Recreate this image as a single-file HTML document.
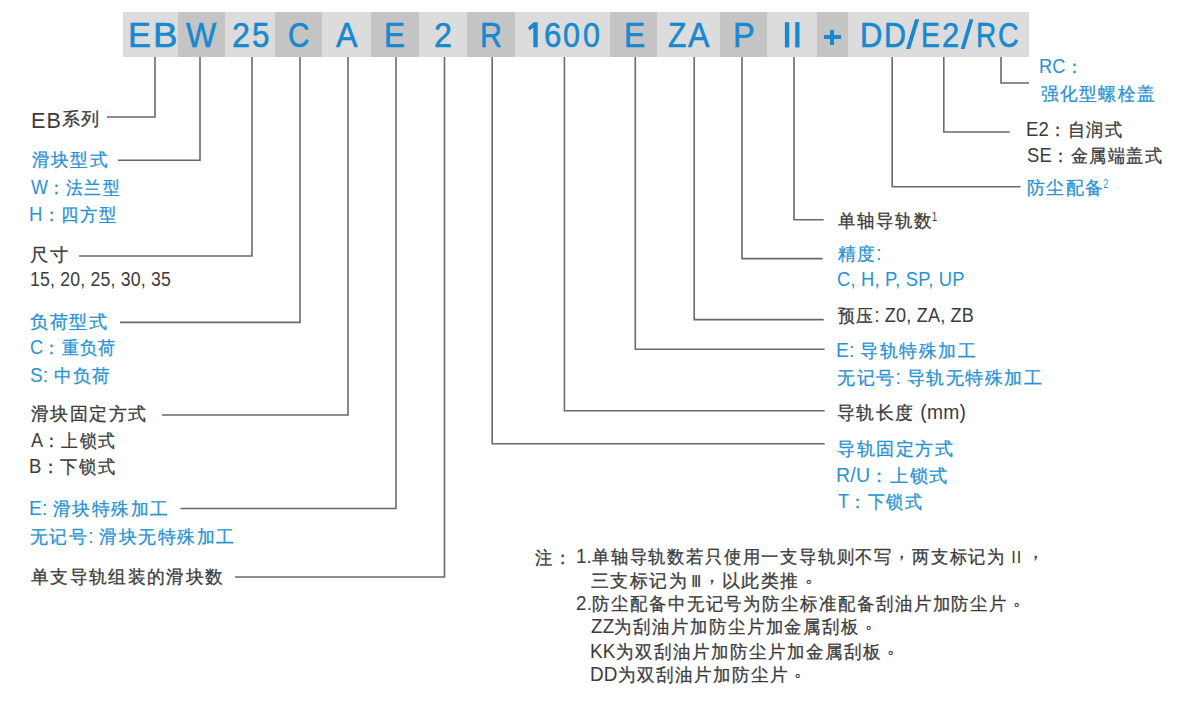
<!DOCTYPE html><html><head><meta charset="utf-8"><style>
html,body{margin:0;padding:0;background:#fff;width:1200px;height:704px;overflow:hidden;position:relative}
.t{position:absolute;white-space:nowrap;font-family:"Liberation Sans",sans-serif;line-height:1;transform-origin:0 0;-webkit-text-stroke:0.3px currentColor;letter-spacing:1.6px} .l{letter-spacing:0.2px;font-size:1.08em;-webkit-text-stroke:0} .r{letter-spacing:-1.8px;font-size:17px} .p{position:relative;top:-5px} .q{left:5px} .r2{letter-spacing:0.8px;font-size:17px} .h{-webkit-text-stroke:0.6px currentColor;letter-spacing:0}
.t sup{font-size:11px;vertical-align:0;position:relative;top:-6px;margin-left:-1.5px;letter-spacing:0;display:inline-block;transform:scaleX(0.8);transform-origin:0 0;-webkit-text-stroke:0.1px currentColor}
.c{position:absolute;top:12px;height:45px}
.ln{position:absolute}
</style></head><body>
<div class="c" style="left:123.00px;width:55.00px;background:#dcdcdc"></div>
<div class="c" style="left:178.00px;width:47.00px;background:#c4c4c4"></div>
<div class="c" style="left:225.00px;width:50.00px;background:#dcdcdc"></div>
<div class="c" style="left:275.00px;width:47.00px;background:#c4c4c4"></div>
<div class="c" style="left:322.00px;width:49.00px;background:#dcdcdc"></div>
<div class="c" style="left:371.00px;width:48.00px;background:#c4c4c4"></div>
<div class="c" style="left:419.00px;width:48.00px;background:#dcdcdc"></div>
<div class="c" style="left:467.00px;width:48.00px;background:#c4c4c4"></div>
<div class="c" style="left:515.00px;width:95.00px;background:#dcdcdc"></div>
<div class="c" style="left:610.00px;width:47.00px;background:#c4c4c4"></div>
<div class="c" style="left:657.00px;width:63.00px;background:#dcdcdc"></div>
<div class="c" style="left:720.00px;width:47.00px;background:#c4c4c4"></div>
<div class="c" style="left:767.00px;width:50.00px;background:#dcdcdc"></div>
<div class="c" style="left:817.00px;width:30.50px;background:#c4c4c4"></div>
<div class="c" style="left:847.50px;width:181.50px;background:#dcdcdc"></div>
<div class="t h" id="h0" style="left:127.60px;top:18.10px;font-size:35.50px;color:#1888d0;transform:scaleX(0.9641)">E</div>
<div class="t h" id="h1" style="left:153.40px;top:18.10px;font-size:35.50px;color:#1888d0;transform:scaleX(1.0359)">B</div>
<div class="t h" id="h2" style="left:186.40px;top:18.10px;font-size:35.50px;color:#1888d0;transform:scaleX(0.9023)">W</div>
<div class="t h" id="h3" style="left:232.00px;top:18.10px;font-size:35.50px;color:#1888d0;transform:scaleX(0.9080)">2</div>
<div class="t h" id="h4" style="left:251.60px;top:18.10px;font-size:35.50px;color:#1888d0;transform:scaleX(0.8835)">5</div>
<div class="t h" id="h5" style="left:287.60px;top:18.10px;font-size:35.50px;color:#1888d0;transform:scaleX(0.8383)">C</div>
<div class="t h" id="h6" style="left:335.60px;top:18.10px;font-size:35.50px;color:#1888d0;transform:scaleX(0.9083)">A</div>
<div class="t h" id="h7" style="left:384.40px;top:18.10px;font-size:35.50px;color:#1888d0;transform:scaleX(0.8822)">E</div>
<div class="t h" id="h8" style="left:434.00px;top:18.10px;font-size:35.50px;color:#1888d0;transform:scaleX(0.9095)">2</div>
<div class="t h" id="h9" style="left:480.00px;top:18.10px;font-size:35.50px;color:#1888d0;transform:scaleX(0.8585)">R</div>
<div class="t h" id="h10" style="left:544.20px;top:18.10px;font-size:35.50px;color:#1888d0;transform:scaleX(0.8771)">6</div>
<div class="t h" id="h11" style="left:563.20px;top:18.10px;font-size:35.50px;color:#1888d0;transform:scaleX(0.8578)">0</div>
<div class="t h" id="h12" style="left:582.80px;top:18.10px;font-size:35.50px;color:#1888d0;transform:scaleX(0.8578)">0</div>
<div class="t h" id="h13" style="left:623.60px;top:18.10px;font-size:35.50px;color:#1888d0;transform:scaleX(0.8910)">E</div>
<div class="t h" id="h14" style="left:668.20px;top:18.10px;font-size:35.50px;color:#1888d0;transform:scaleX(0.8449)">Z</div>
<div class="t h" id="h15" style="left:687.60px;top:18.10px;font-size:35.50px;color:#1888d0;transform:scaleX(0.9047)">A</div>
<div class="t h" id="h16" style="left:733.00px;top:18.10px;font-size:35.50px;color:#1888d0;transform:scaleX(0.9181)">P</div>
<div class="t h" id="h17" style="left:859.50px;top:18.10px;font-size:35.50px;color:#1888d0;transform:scaleX(0.8734)">D</div>
<div class="t h" id="h18" style="left:883.50px;top:18.10px;font-size:35.50px;color:#1888d0;transform:scaleX(0.8569)">D</div>
<div class="t h" id="h19" style="left:921.20px;top:18.10px;font-size:35.50px;color:#1888d0;transform:scaleX(0.7952)">E</div>
<div class="t h" id="h20" style="left:942.20px;top:18.10px;font-size:35.50px;color:#1888d0;transform:scaleX(0.8711)">2</div>
<div class="t h" id="h21" style="left:975.50px;top:18.10px;font-size:35.50px;color:#1888d0;transform:scaleX(0.7890)">R</div>
<div class="t h" id="h22" style="left:998.00px;top:18.10px;font-size:35.50px;color:#1888d0;transform:scaleX(0.8057)">C</div>
<div class="pl" style="position:absolute;left:824.2px;top:35.2px;width:16.4px;height:3.7px;background:#1888d0"></div>
<div class="pl" style="position:absolute;left:830.3px;top:30px;width:4.1px;height:14.7px;background:#1888d0"></div>
<svg class="pl" width="1200" height="60" style="position:absolute;left:0;top:0"><g fill="#1888d0"><rect x="784.9" y="22.2" width="4.3" height="25.3"/><rect x="795.2" y="22.2" width="4.3" height="25.3"/><polygon points="533.6,22.2 537.7,22.2 537.7,47.3 533.3,47.3 533.3,27.6 529.7,30.6 527.9,27.4"/><polygon points="906.1,49 910.2,49 919.2,19.3 915.1,19.3"/><polygon points="960.7,49 964.6,49 973.4,19.3 969.5,19.3"/></g></svg>
<svg class="ln" width="1200" height="704" style="position:absolute;left:0;top:0"><path d="M155.00 57.00V117.00H107.00 M200.00 57.00V160.20H118.00 M252.00 57.00V256.00H79.00 M300.00 57.00V322.40H120.00 M348.00 57.00V415.00H162.00 M396.00 57.00V508.50H180.50 M444.50 57.00V577.00H235.00 M492.20 57.00V443.70H824.60 M564.40 57.00V410.80H824.60 M635.30 57.00V349.20H824.60 M694.20 57.00V319.60H823.70 M742.00 57.00V258.60H822.60 M794.00 57.00V219.80H823.70 M892.20 57.00V186.70H1020.50 M943.80 57.00V132.00H1009.80 M1001.00 57.00V83.00H1029.00" fill="none" stroke="#6a6a6a" stroke-width="1.6" stroke-linejoin="miter"/></svg>
<div class="t" id="t0" style="left:30.60px;top:109.50px;font-size:18.00px;color:#3c3c3c;transform:scaleX(1.0035)"><span class="l" style="font-size:21.5px;letter-spacing:1px;vertical-align:-2.5px">EB</span>系列</div>
<div class="t" id="t1" style="left:31.80px;top:151.45px;font-size:18.00px;color:#2b92d2;transform:scaleX(0.9797)">滑块型式</div>
<div class="t" id="t2" style="left:31.00px;top:178.15px;font-size:18.00px;color:#2b92d2;transform:scaleX(0.9263)"><span class="l">W</span>：法兰型</div>
<div class="t" id="t3" style="left:29.00px;top:205.00px;font-size:18.00px;color:#2b92d2;transform:scaleX(0.9587)"><span class="l">H</span>：四方型</div>
<div class="t" id="t4" style="left:30.00px;top:245.75px;font-size:18.00px;color:#3c3c3c;transform:scaleX(1.0169)">尺寸</div>
<div class="t" id="t5" style="left:30.00px;top:270.20px;font-size:18.00px;color:#3c3c3c;transform:scaleX(0.9106)"><span class="l">15, 20, 25, 30, 35</span></div>
<div class="t" id="t6" style="left:30.00px;top:313.20px;font-size:18.00px;color:#2b92d2;transform:scaleX(0.9980)">负荷型式</div>
<div class="t" id="t7" style="left:30.00px;top:338.45px;font-size:18.00px;color:#2b92d2;transform:scaleX(0.9344)"><span class="l">C</span>：重负荷</div>
<div class="t" id="t8" style="left:30.00px;top:365.50px;font-size:18.00px;color:#2b92d2;transform:scaleX(0.9750)"><span class="l">S: </span>中负荷</div>
<div class="t" id="t9" style="left:31.00px;top:405.00px;font-size:18.00px;color:#3c3c3c;transform:scaleX(0.9932)">滑块固定方式</div>
<div class="t" id="t10" style="left:31.00px;top:431.05px;font-size:18.00px;color:#3c3c3c;transform:scaleX(0.9289)"><span class="l">A</span>：上锁式</div>
<div class="t" id="t11" style="left:29.00px;top:457.45px;font-size:18.00px;color:#3c3c3c;transform:scaleX(0.9533)"><span class="l">B</span>：下锁式</div>
<div class="t" id="t12" style="left:29.00px;top:498.95px;font-size:18.00px;color:#2b92d2;transform:scaleX(0.9878)"><span class="l">E: </span>滑块特殊加工</div>
<div class="t" id="t13" style="left:30.00px;top:526.55px;font-size:18.00px;color:#2b92d2;transform:scaleX(0.9912)">无记号<span class="l">: </span>滑块无特殊加工</div>
<div class="t" id="t14" style="left:31.20px;top:568.05px;font-size:18.00px;color:#3c3c3c;transform:scaleX(0.9856)">单支导轨组装的滑块数</div>
<div class="t" id="t15" style="left:1039.00px;top:57.00px;font-size:18.00px;color:#2b92d2;transform:scaleX(0.9367)"><span class="l">RC</span>：</div>
<div class="t" id="t16" style="left:1040.60px;top:85.30px;font-size:18.00px;color:#2b92d2;transform:scaleX(0.9758)">强化型螺栓盖</div>
<div class="t" id="t17" style="left:1025.60px;top:120.10px;font-size:18.00px;color:#3c3c3c;transform:scaleX(0.9530)"><span class="l">E2</span>：自润式</div>
<div class="t" id="t18" style="left:1026.60px;top:145.75px;font-size:18.00px;color:#3c3c3c;transform:scaleX(0.9483)"><span class="l">SE</span>：金属端盖式</div>
<div class="t" id="t19" style="left:1026.60px;top:179.35px;font-size:18.00px;color:#2b92d2;transform:scaleX(0.9904)">防尘配备<sup><span class="l">2</span></sup></div>
<div class="t" id="t20" style="left:837.80px;top:212.30px;font-size:18.00px;color:#3c3c3c;transform:scaleX(0.9681)">单轴导轨数<sup><span class="l">1</span></sup></div>
<div class="t" id="t21" style="left:838.00px;top:244.40px;font-size:18.00px;color:#2b92d2;transform:scaleX(0.9767)">精度<span class="l">:</span></div>
<div class="t" id="t22" style="left:837.00px;top:269.70px;font-size:18.00px;color:#2b92d2;transform:scaleX(0.9445)"><span class="l">C, H, P, SP, UP</span></div>
<div class="t" id="t23" style="left:838.00px;top:306.10px;font-size:18.00px;color:#3c3c3c;transform:scaleX(0.9297)">预压<span class="l">: Z0, ZA, ZB</span></div>
<div class="t" id="t24" style="left:836.00px;top:340.65px;font-size:18.00px;color:#2b92d2;transform:scaleX(0.9957)"><span class="l">E: </span>导轨特殊加工</div>
<div class="t" id="t25" style="left:837.00px;top:367.65px;font-size:18.00px;color:#2b92d2;transform:scaleX(0.9966)">无记号<span class="l">: </span>导轨无特殊加工</div>
<div class="t" id="t26" style="left:837.00px;top:402.70px;font-size:18.00px;color:#3c3c3c;transform:scaleX(0.9922)">导轨长度<span class="l"> (mm)</span></div>
<div class="t" id="t27" style="left:837.00px;top:440.15px;font-size:18.00px;color:#2b92d2;transform:scaleX(0.9985)">导轨固定方式</div>
<div class="t" id="t28" style="left:836.00px;top:465.75px;font-size:18.00px;color:#2b92d2;transform:scaleX(1.0039)"><span class="l">R/U</span>：上锁式</div>
<div class="t" id="t29" style="left:838.00px;top:492.40px;font-size:18.00px;color:#2b92d2;transform:scaleX(0.9391)"><span class="l">T</span>：下锁式</div>
<div class="t" id="t30" style="left:535.00px;top:548.70px;font-size:18.00px;color:#3c3c3c;transform:scaleX(0.9607)">注：</div>
<div class="t" id="t31" style="left:576.40px;top:547.20px;font-size:18.00px;color:#3c3c3c;transform:scaleX(0.9602)"><span class="l">1.</span>单轴导轨数若只使用一支导轨则不写<span class="p">，</span>两支标记为<span class="l r2"> II </span><span class="p">，</span></div>
<div class="t" id="t32" style="left:591.20px;top:572.05px;font-size:18.00px;color:#3c3c3c;transform:scaleX(0.9904)">三支标记为<span class="l r"> III </span><span class="p">，</span>以此类推<span class="p q">。</span></div>
<div class="t" id="t33" style="left:576.00px;top:594.35px;font-size:18.00px;color:#3c3c3c;transform:scaleX(0.9652)"><span class="l">2.</span>防尘配备中无记号为防尘标准配备刮油片加防尘片<span class="p q">。</span></div>
<div class="t" id="t34" style="left:590.80px;top:617.05px;font-size:18.00px;color:#3c3c3c;transform:scaleX(0.9647)"><span class="l">ZZ</span>为刮油片加防尘片加金属刮板<span class="p q">。</span></div>
<div class="t" id="t35" style="left:589.80px;top:642.00px;font-size:18.00px;color:#3c3c3c;transform:scaleX(0.9727)"><span class="l">KK</span>为双刮油片加防尘片加金属刮板<span class="p q">。</span></div>
<div class="t" id="t36" style="left:589.80px;top:664.50px;font-size:18.00px;color:#3c3c3c;transform:scaleX(0.9723)"><span class="l">DD</span>为双刮油片加防尘片<span class="p q">。</span></div>
</body></html>
